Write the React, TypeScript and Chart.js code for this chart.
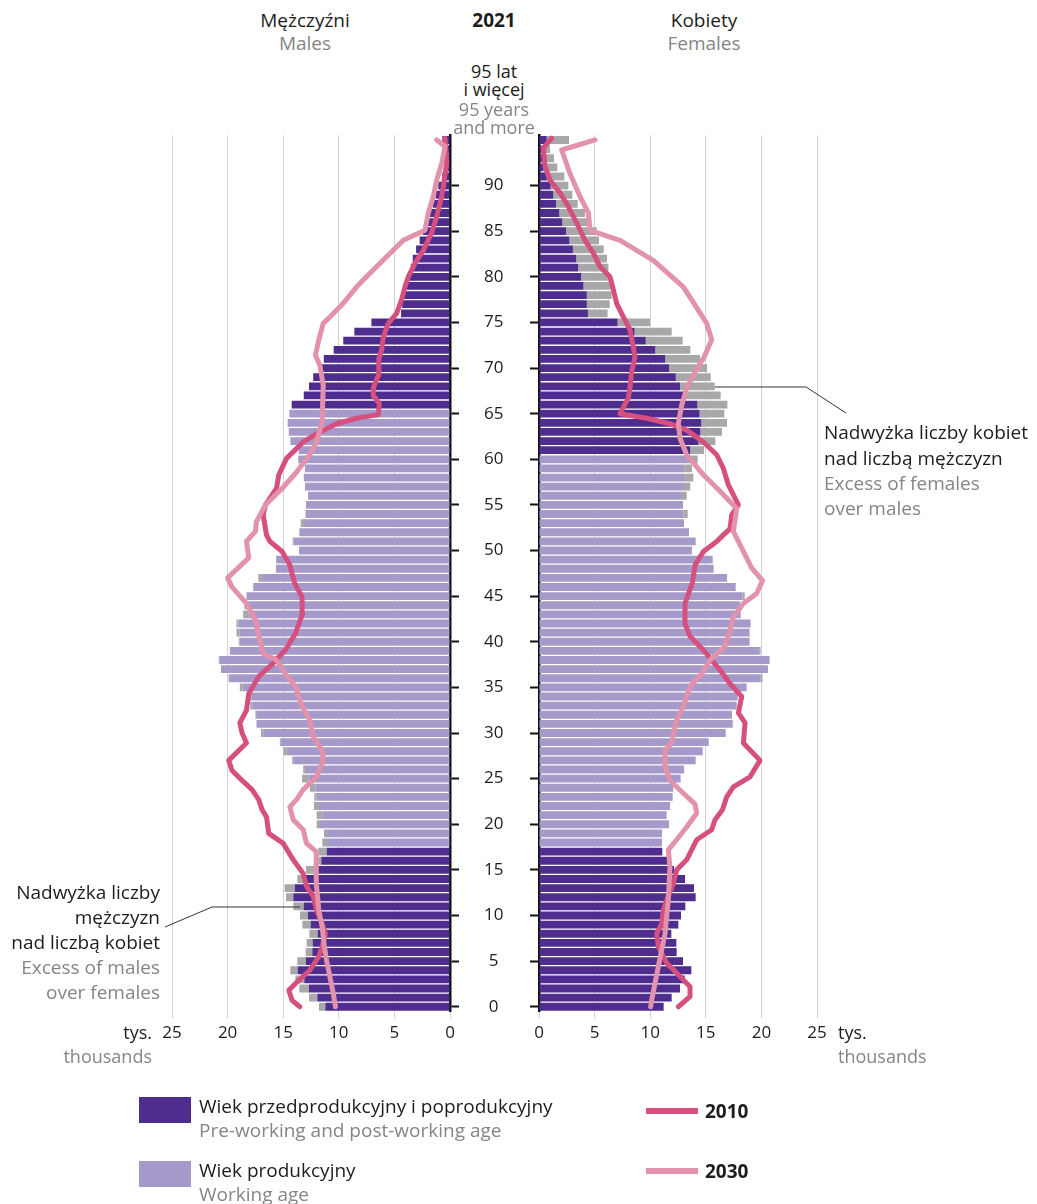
import React, { useEffect, useRef } from "react";
import { Chart, registerables } from "chart.js";
Chart.register(...registerables);

const FONT = "'Open Sans', Lato, sans-serif";
const DARK = "#4e2d8e";
const LIGHT = "#a69aca";
const GREY = "#a8a8ab";
const C2010 = "#d6507f";
const C2030 = "#e292ab";
const TXT = "#1d1d1b";
const GTXT = "#858585";

const AGES: number[] = Array.from({ length: 96 }, (_, i) => i);
const AGE_TICKS = [0, 5, 10, 15, 20, 25, 30, 35, 40, 45, 50, 55, 60, 65, 70, 75, 80, 85, 90];
const X_TICKS = [0, 5, 10, 15, 20, 25];

// population 2021, thousands, ages 0..95+
const MALES: number[] = [
  11.78, 12.68, 13.55, 13.9, 14.36, 13.73, 12.98, 12.89, 12.65, 13.28,
  13.49, 14.09, 14.75, 14.87, 13.73, 12.95, 11.84, 11.84, 11.48, 11.33,
  11.99, 11.99, 12.23, 12.2, 12.6, 13.3, 13.2, 14.2, 14.97, 15.3,
  17.0, 17.4, 17.5, 17.96, 18.0, 18.9, 19.9, 20.6, 20.8, 19.8,
  19.0, 19.2, 19.2, 18.6, 18.5, 18.3, 17.72, 17.24, 15.65, 15.65,
  13.58, 14.15, 13.55, 13.43, 13.0, 12.95, 12.77, 13.04, 13.15, 13.05,
  13.65, 13.6, 14.35, 14.5, 14.6, 14.44, 14.24, 13.15, 12.68, 12.3,
  11.7, 11.35, 10.46, 9.6, 8.6, 7.07, 4.4, 4.3, 4.3, 4.0,
  3.8, 3.52, 3.35, 3.05, 2.73, 2.43, 2.1, 1.83, 1.53, 1.29,
  1.05, 0.7, 0.4, 0.3, 0.24, 0.69,
];
const FEMALES: number[] = [
  11.21, 11.93, 12.68, 13.1, 13.7, 12.95, 12.38, 12.35, 11.9, 12.53,
  12.77, 13.16, 14.09, 13.94, 13.13, 12.14, 11.57, 11.09, 11.06, 11.06,
  11.69, 11.48, 11.78, 12.02, 12.08, 12.74, 13.05, 14.09, 14.72, 15.26,
  16.79, 17.45, 17.36, 17.78, 17.87, 18.67, 20.1, 20.59, 20.74, 19.93,
  18.94, 18.94, 19.03, 18.14, 18.08, 18.5, 17.69, 16.91, 15.71, 15.62,
  13.76, 14.09, 13.49, 13.04, 13.37, 12.95, 13.28, 13.6, 13.88, 13.76,
  14.27, 14.84, 15.86, 16.46, 16.91, 16.67, 16.94, 16.34, 15.8, 15.44,
  15.11, 14.48, 13.61, 12.92, 11.93, 9.98, 6.17, 6.36, 6.53, 6.44,
  6.27, 6.24, 6.12, 5.82, 5.4, 5.19, 4.44, 4.14, 3.48, 3.0,
  2.64, 2.28, 1.65, 1.35, 1.0, 2.7,
];

// working-age ranges as drawn (inclusive)
const MALE_WORKING = [18, 65];
const FEMALE_WORKING = [18, 60];

// [age, thousands]
const MALE_2010: [number, number][] = [
  [0, 13.5], [0.7, 14.2], [1.8, 14.5], [2.9, 13.6], [4.0, 12.6], [5.5, 11.8], [6.6, 11.5], [8.0, 11.2],
  [9.1, 11.5], [10.6, 12.0], [12.1, 12.3], [13.2, 12.9], [14.6, 13.2], [16.1, 14.1], [17.9, 15.0],
  [19.0, 16.3], [20.8, 16.5], [21.6, 16.9], [22.7, 17.2], [23.8, 17.8], [24.8, 18.7], [25.9, 19.6],
  [27.0, 19.9], [28.9, 18.3], [30.0, 18.7], [31.1, 18.9], [32.5, 18.3], [34.3, 18.1], [36.2, 17.2],
  [37.3, 16.2], [39.1, 14.8], [40.9, 13.9], [43.1, 13.25], [44.9, 13.3], [46.5, 14.0], [48.4, 14.4],
  [49.9, 15.1], [51.0, 16.2], [51.7, 16.5], [53.9, 16.8], [55.0, 16.6], [56.8, 15.6], [58.3, 15.4],
  [60.1, 14.7], [61.9, 13.2], [63.0, 11.7], [63.9, 10.2], [64.5, 8.4], [64.9, 6.45], [66.1, 6.35],
  [67.0, 6.9], [67.8, 6.9], [69.2, 6.45], [71.0, 6.4], [72.0, 6.15], [73.4, 6.0], [74.9, 5.55],
  [76.0, 4.8], [77.5, 4.35], [78.9, 4.05], [80.0, 3.75], [81.5, 3.15], [82.9, 2.4], [84.8, 1.65],
  [86.6, 1.2], [88.8, 0.75], [92.4, 0.3], [95.2, 0.45],
];
const MALE_2030: [number, number][] = [
  [0, 10.3], [1.5, 10.5], [3.3, 10.8], [5.1, 11.1], [6.6, 11.3], [8.8, 11.5], [10.6, 11.8], [13.2, 12.0],
  [15.3, 12.05], [17.0, 12.0], [17.9, 12.9], [19.4, 13.2], [20.5, 14.1], [21.9, 14.4], [22.7, 13.8],
  [23.8, 13.2], [25.2, 12.0], [27.0, 11.4], [28.1, 11.5], [29.6, 12.3], [31.4, 12.6], [32.9, 13.3],
  [35.1, 13.9], [36.5, 14.8], [38.0, 15.6], [38.7, 16.8], [40.2, 17.1], [42.4, 17.5], [44.2, 18.3],
  [46.0, 19.6], [47.0, 20.0], [49.2, 18.1], [51.0, 18.3], [52.1, 17.5], [53.2, 17.4], [55.0, 16.6],
  [56.8, 15.1], [58.6, 13.8], [60.5, 12.6], [61.9, 12.0], [64.1, 11.5], [68.1, 11.4], [70.3, 11.7],
  [71.4, 12.1], [73.1, 11.8], [74.9, 11.4], [75.6, 10.8], [77.1, 9.6], [78.9, 8.4], [80.4, 7.2],
  [82.2, 5.7], [84.0, 4.2], [85.1, 2.25], [87.0, 1.95], [88.8, 1.5], [90.6, 1.2], [92.4, 0.75],
  [94.3, 0.45], [95.0, 1.2],
];
const FEMALE_2010: [number, number][] = [
  [0, 12.53], [1.1, 13.58], [2.2, 13.58], [3.7, 12.38], [4.8, 11.48], [6.6, 10.73], [8.0, 10.58],
  [9.1, 11.03], [10.6, 11.18], [11.7, 11.48], [13.5, 12.08], [15.0, 12.38], [16.1, 13.28], [18.3, 14.18],
  [19.4, 15.53], [20.5, 15.83], [21.6, 16.5], [23.0, 16.88], [24.1, 17.48], [25.2, 18.98], [27.0, 19.87],
  [28.9, 18.38], [31.1, 18.53], [32.2, 17.93], [34.0, 18.23], [35.4, 17.18], [36.9, 16.28], [39.1, 14.78],
  [40.6, 13.58], [42.0, 13.13], [44.2, 13.13], [46.5, 13.8], [48.4, 14.03], [49.9, 14.78], [51.0, 15.98],
  [52.4, 17.18], [53.9, 17.33], [55.0, 17.93], [57.2, 17.03], [59.0, 16.58], [60.5, 15.98], [61.9, 14.78],
  [63.2, 13.28], [63.9, 11.78], [64.5, 9.68], [65.0, 7.28], [66.7, 8.03], [67.8, 8.18], [69.6, 8.33],
  [71.2, 8.63], [72.7, 8.42], [74.2, 8.18], [75.6, 7.58], [77.1, 6.98], [78.9, 6.62], [80.0, 6.38],
  [81.1, 5.49], [82.6, 4.89], [84.0, 4.14], [85.9, 3.39], [87.7, 2.64], [89.2, 1.89], [90.6, 0.99],
  [92.1, 0.54], [94.1, 0.39], [95.2, 1.14],
];
const FEMALE_2030: [number, number][] = [
  [0, 10.04], [0.7, 10.13], [4.4, 10.73], [8.0, 11.33], [11.7, 11.63], [15.3, 11.78], [17.2, 11.63],
  [18.3, 12.38], [19.7, 13.28], [21.2, 14.18], [22.2, 14.03], [23.4, 12.98], [24.8, 11.78], [26.3, 11.33],
  [28.1, 11.33], [28.9, 11.93], [29.9, 12.08], [31.4, 12.38], [32.9, 12.98], [35.1, 13.58], [36.5, 14.63],
  [38.0, 15.38], [39.5, 16.73], [41.3, 17.18], [42.7, 17.48], [44.2, 18.38], [45.3, 19.57], [46.7, 20.1],
  [48.1, 19.12], [49.9, 18.38], [52.1, 17.48], [54.6, 17.78], [56.5, 16.28], [58.3, 14.78], [60.5, 13.28],
  [62.3, 12.68], [63.9, 12.53], [65.9, 12.83], [67.8, 13.28], [69.9, 14.18], [71.2, 14.85], [73.1, 15.53],
  [74.9, 15.08], [78.9, 12.98], [81.8, 10.28], [84.0, 7.28], [85.1, 4.59], [87.0, 4.44], [88.8, 3.69],
  [91.3, 2.79], [93.9, 2.04], [95.0, 5.04],
];

function lineDs(label: string, pts: [number, number][], color: string, order: number) {
  return {
    type: "line" as const,
    label,
    data: pts.map(([a, v]) => ({ x: v, y: a })),
    xAxisID: "x",
    yAxisID: "y",
    indexAxis: "y" as const,
    borderColor: color,
    backgroundColor: color,
    borderWidth: 5,
    pointRadius: 0,
    tension: 0,
    fill: false,
    stack: "s" + label,
    order,
    borderJoinStyle: "round" as const,
    borderCapStyle: "round" as const,
    clip: false as any,
  };
}

function makeConfig(side: "m" | "f"): any {
  const isM = side === "m";
  const own = isM ? MALES : FEMALES;
  const other = isM ? FEMALES : MALES;
  const work = isM ? MALE_WORKING : FEMALE_WORKING;
  const base = AGES.map((a) => ({ x: Math.min(own[a], other[a]), y: a }));
  const excess = AGES.map((a) => ({ x: Math.max(0, own[a] - other[a]), y: a }));
  const colors = AGES.map((a) => (a >= work[0] && a <= work[1] ? LIGHT : DARK));
  const l2010 = isM ? MALE_2010 : FEMALE_2010;
  const l2030 = isM ? MALE_2030 : FEMALE_2030;
  return {
    type: "bar",
    data: {
      datasets: [
        {
          label: "base", data: base, backgroundColor: colors, xAxisID: "x", yAxisID: "y",
          barPercentage: 0.86, categoryPercentage: 1, borderWidth: 0, order: 3, stack: "pop",
        },
        {
          label: "excess", data: excess, backgroundColor: GREY, xAxisID: "x", yAxisID: "y",
          barPercentage: 0.86, categoryPercentage: 1, borderWidth: 0, order: 3, stack: "pop",
        },
        lineDs("2010", l2010, C2010, 1),
        lineDs("2030", l2030, C2030, 0),
      ],
    },
    options: {
      responsive: false,
      animation: false,
      indexAxis: "y",
      events: [],
      layout: {
        padding: isM
          ? { left: 172, right: 0, top: 15.4, bottom: 0 }
          : { left: 0, right: 220, top: 15.4, bottom: 0 },
      },
      plugins: { legend: { display: false }, tooltip: { enabled: false } },
      scales: {
        x: {
          type: "linear",
          min: 0,
          max: 25,
          reverse: isM,
          stacked: true,
          afterBuildTicks: (s: any) => { s.ticks = X_TICKS.map((v) => ({ value: v })); },
          ticks: { font: { family: FONT, size: 17 }, color: TXT, padding: 5 },
          grid: { color: "#d3d3d3", lineWidth: 1, drawTicks: true, tickLength: 7 },
          border: { display: false },
          afterFit: (s: any) => { s.height = 48.7; },
        },
        y: {
          type: "linear",
          min: -0.5,
          max: 95.5,
          bounds: "data",
          offset: false,
          stacked: true,
          position: isM ? "right" : "left",
          afterBuildTicks: (s: any) => { s.ticks = AGE_TICKS.map((v) => ({ value: v })); },
          grid: {
            offset: false,
            drawOnChartArea: false,
            drawTicks: true,
            tickLength: 9,
            tickWidth: 2,
            tickColor: "#111",
          },
          border: { display: true, color: "#111", width: 2.5 },
          ticks: {
            font: { family: FONT, size: 17 },
            color: isM ? TXT : "rgba(0,0,0,0)",
            padding: 25,
            crossAlign: "center",
          },
          afterFit: (s: any) => {
            s.width = isM ? 90 : 89;
            s.paddingTop = 0;
            s.paddingBottom = 0;
          },
        },
      },
    },
  };
}

type TProps = { x: number; y: number; children: React.ReactNode; align?: "left" | "center" | "right"; gray?: boolean; bold?: boolean; size?: number };
function T({ x, y, children, align = "left", gray, bold, size = 19 }: TProps) {
  const lh = 22;
  const tr = align === "center" ? "translateX(-50%)" : align === "right" ? "translateX(-100%)" : "none";
  return (
    <div
      style={{
        position: "absolute", left: x, top: y - lh / 2, lineHeight: lh + "px", height: lh,
        fontSize: size, fontWeight: bold ? 700 : 400, color: gray ? GTXT : TXT,
        whiteSpace: "nowrap", transform: tr, fontFamily: FONT,
      }}
    >
      {children}
    </div>
  );
}

export default function App() {
  const lRef = useRef<HTMLCanvasElement>(null);
  const rRef = useRef<HTMLCanvasElement>(null);
  useEffect(() => {
    const a = new Chart(lRef.current as HTMLCanvasElement, makeConfig("m"));
    const b = new Chart(rRef.current as HTMLCanvasElement, makeConfig("f"));
    return () => { a.destroy(); b.destroy(); };
  }, []);
  return (
    <div style={{ position: "absolute", left: 0, top: 0, width: 1037, height: 1204, background: "#fff", fontFamily: FONT, overflow: "hidden" }}>
      <canvas ref={lRef} width={540} height={940} style={{ position: "absolute", left: 0, top: 120, width: 540, height: 940 }} />
      <canvas ref={rRef} width={587} height={940} style={{ position: "absolute", left: 450, top: 120, width: 587, height: 940 }} />

      <T x={305} y={20} align="center">Mężczyźni</T>
      <T x={305} y={43} align="center" gray>Males</T>
      <T x={494} y={20} align="center" bold>2021</T>
      <T x={704} y={20} align="center">Kobiety</T>
      <T x={704} y={43} align="center" gray>Females</T>
      <T x={494} y={71} align="center" size={18}>95 lat</T>
      <T x={494} y={89} align="center" size={18}>i więcej</T>
      <T x={494} y={109} align="center" gray size={18}>95 years</T>
      <T x={494} y={127} align="center" gray size={18}>and more</T>

      <T x={160} y={892} align="right">Nadwyżka liczby</T>
      <T x={160} y={917} align="right">mężczyzn</T>
      <T x={160} y={942} align="right">nad liczbą kobiet</T>
      <T x={160} y={967} align="right" gray>Excess of males</T>
      <T x={160} y={992} align="right" gray>over females</T>

      <T x={824} y={432}>Nadwyżka liczby kobiet</T>
      <T x={824} y={458}>nad liczbą mężczyzn</T>
      <T x={824} y={483} gray>Excess of females</T>
      <T x={824} y={508} gray>over males</T>

      <T x={152} y={1032} align="right" size={18}>tys.</T>
      <T x={152} y={1056} align="right" gray size={18}>thousands</T>
      <T x={838} y={1032} size={18}>tys.</T>
      <T x={838} y={1056} gray size={18}>thousands</T>

      <svg width={1037} height={1204} style={{ position: "absolute", left: 0, top: 0, pointerEvents: "none" }}>
        <polyline points="715,387 806,387 846,413" fill="none" stroke="#333" strokeWidth={1} />
        <polyline points="300,907 212,907 165,927" fill="none" stroke="#333" strokeWidth={1} />
      </svg>

      <div style={{ position: "absolute", left: 139, top: 1097, width: 52, height: 26, background: DARK }} />
      <T x={199} y={1106}>Wiek przedprodukcyjny i poprodukcyjny</T>
      <T x={199} y={1130} gray>Pre-working and post-working age</T>
      <div style={{ position: "absolute", left: 139, top: 1161, width: 52, height: 26, background: LIGHT }} />
      <T x={199} y={1170}>Wiek produkcyjny</T>
      <T x={199} y={1194} gray>Working age</T>

      <div style={{ position: "absolute", left: 646, top: 1108, width: 52, height: 6, background: C2010 }} />
      <T x={705} y={1111} bold>2010</T>
      <div style={{ position: "absolute", left: 646, top: 1168, width: 52, height: 6, background: C2030 }} />
      <T x={705} y={1171} bold>2030</T>
    </div>
  );
}
